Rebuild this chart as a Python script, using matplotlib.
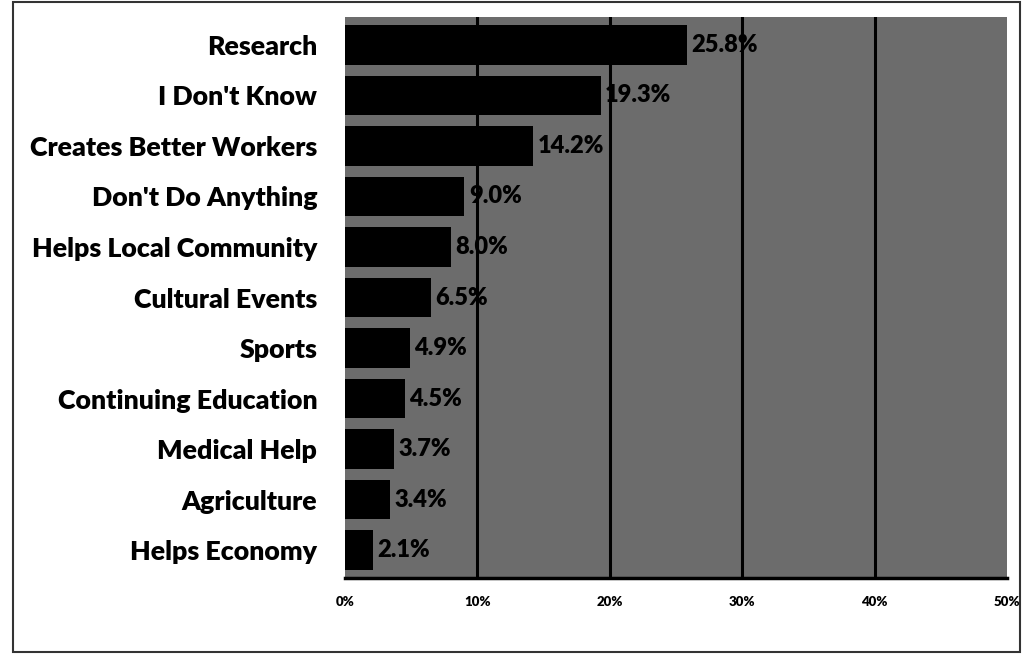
import matplotlib
matplotlib.use("Agg")
import matplotlib.pyplot as plt
from matplotlib.patches import Rectangle

categories = ["Research", "I Don't Know", "Creates Better Workers", "Don't Do Anything",
              "Helps Local Community", "Cultural Events", "Sports", "Continuing Education",
              "Medical Help", "Agriculture", "Helps Economy"]
values = [25.8, 19.3, 14.2, 9.0, 8.0, 6.5, 4.9, 4.5, 3.7, 3.4, 2.1]
xticks = [0, 10, 20, 30, 40, 50]
xticklabels = ["0%", "10%", "20%", "30%", "40%", "50%"]

plt.rcParams['font.family'] = ['Lato', 'DejaVu Sans']

fig = plt.figure(figsize=(10.23, 6.54), dpi=100)
ax = fig.add_axes([345/1023, 76/654, 662/1023, 561/654])
ax.set_facecolor("#6c6c6c")

y = list(range(len(categories)))
ax.barh(y, values, height=0.78, color="black", zorder=3)
for yi, v in zip(y, values):
    ax.text(v + 0.35, yi, f"{v:.1f}%", va="center", ha="left", fontsize=17,
            fontweight="heavy", color="black", zorder=4)

for g in [10, 20, 30, 40]:
    ax.axvline(g, color="black", lw=2.2, zorder=2)

ax.set_xlim(0, 50)
ax.set_ylim(len(categories) - 0.45, -0.55)
ax.set_yticks(y)
ax.set_yticklabels(categories, fontsize=19.3, fontweight="heavy")
ax.set_xticks(xticks)
ax.set_xticklabels(xticklabels, fontsize=9.5, fontweight="heavy")
ax.tick_params(axis="y", length=0, pad=20)
ax.tick_params(axis="x", length=0, pad=13)
for s in ["top", "right", "left"]:
    ax.spines[s].set_visible(False)
ax.spines["bottom"].set_linewidth(2.5)
ax.spines["bottom"].set_zorder(5)

fig.patches.append(Rectangle((13/1023, 2/654), 1007/1023, 650/654, transform=fig.transFigure,
                             fill=False, edgecolor="#333333", lw=1.5))

fig.savefig("out.png", dpi=100)
